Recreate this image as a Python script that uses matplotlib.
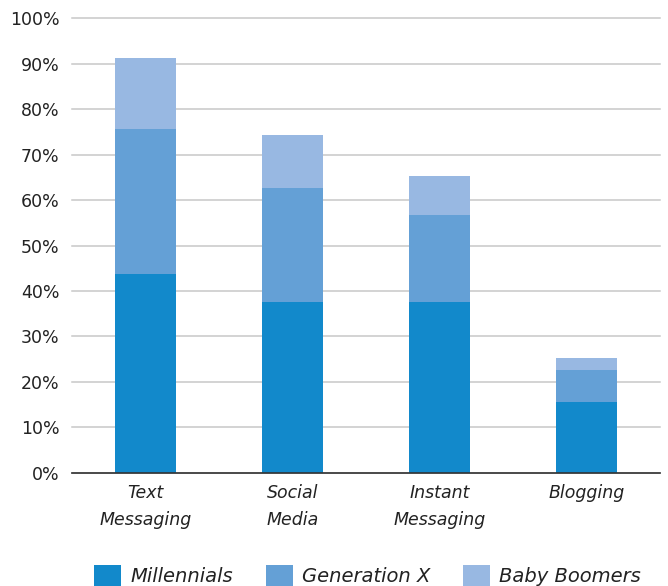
import matplotlib

matplotlib.use("Agg")
import matplotlib.pyplot as plt
import numpy as np
from matplotlib.patches import Patch

# Share of each generation using the channel, stacked per category (%)
categories = ["Text\nMessaging", "Social\nMedia", "Instant\nMessaging", "Blogging"]
millennials = [43.7, 37.6, 37.6, 15.6]
generation_x = [32.0, 25.1, 19.1, 7.0]
baby_boomers = [15.6, 11.6, 8.6, 2.7]
series_names = ["Millennials", "Generation X", "Baby Boomers"]
colors = ["#1289CB", "#64A0D6", "#98B8E2"]

plt.rcParams["font.family"] = ["DejaVu Sans"]

fig = plt.figure(figsize=(6.68, 5.86), dpi=100)
fig.patch.set_facecolor("white")
ax = fig.add_axes([0.108, 0.193, 0.88, 0.776])

x = np.arange(len(categories))
bottom = np.zeros(len(categories))
for vals, col in zip([millennials, generation_x, baby_boomers], colors):
    ax.bar(x, vals, width=0.42, bottom=bottom, color=col, zorder=3)
    bottom += np.array(vals)

ax.set_xlim(-0.5, len(categories) - 0.5)
ax.set_ylim(0, 100)
ax.set_yticks(np.arange(0, 101, 10))
ax.set_yticklabels([f"{v}%" for v in range(0, 101, 10)], fontsize=12.5, color="#222222")
ax.set_xticks(x)
ax.set_xticklabels(categories, fontsize=12.5, style="italic", color="#222222", linespacing=1.65)
ax.tick_params(axis="both", length=0)
ax.tick_params(axis="y", pad=9)
ax.tick_params(axis="x", pad=8)

ax.grid(True, axis="y", color="#C8C8C8", linewidth=1.1, zorder=0)
for gl in ax.get_ygridlines():
    gl.set_clip_on(False)
for spine in ("top", "right", "left"):
    ax.spines[spine].set_visible(False)
ax.spines["bottom"].set_color("#333333")
ax.spines["bottom"].set_linewidth(1.2)
ax.spines["bottom"].set_zorder(4)

handles = [Patch(facecolor=c, edgecolor="none") for c in colors]
leg = fig.legend(
    handles, series_names,
    loc="center", bbox_to_anchor=(0.55, 0.018), ncol=3, frameon=False,
    prop={"size": 14, "style": "italic"},
    handlelength=1.4, handleheight=1.35, handletextpad=0.45, columnspacing=1.7,
)
for t in leg.get_texts():
    t.set_color("#222222")

fig.savefig("out.png", dpi=100, facecolor="white")
plt.close(fig)
